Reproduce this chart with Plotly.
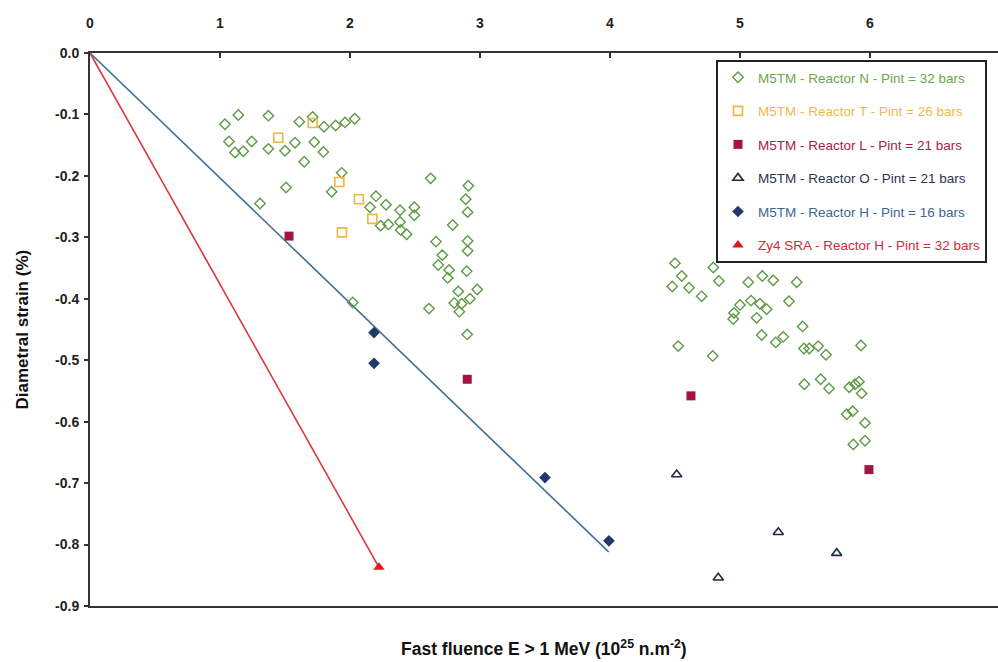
import plotly.graph_objects as go

# ---- data (fast fluence, 10^25 n/m^2 ; diametral strain, %) ----
n_x = [1.038, 1.141, 1.372, 1.610, 1.713, 1.800, 1.890, 1.962, 2.036, 1.069, 1.115, 1.179, 1.244,
       1.372, 1.500, 1.577, 1.725, 1.795, 1.648, 1.936, 1.859, 1.508, 1.308, 2.200, 2.154, 2.277,
       2.385, 2.495, 2.495, 2.236, 2.295, 2.385, 2.390, 2.436, 2.021, 2.621, 2.910, 2.890, 2.905,
       2.790, 2.662, 2.905, 2.905, 2.710, 2.679, 2.762, 2.752, 2.898, 2.979, 2.833, 2.802, 2.859,
       2.923, 2.841, 2.608, 2.902,
       4.500, 4.552, 4.479, 4.608, 4.705, 4.795, 4.838, 5.064, 5.172, 5.256, 5.436, 5.377, 5.085,
       5.154, 5.205, 5.000, 4.954, 4.948, 5.128, 5.167, 5.275, 5.333, 5.482, 5.492, 5.533, 4.525,
       4.790, 5.495, 5.602, 5.662, 5.931, 5.621, 5.685, 5.841, 5.885, 5.915, 5.936, 5.821, 5.867,
       5.962, 5.872, 5.962]
n_y = [-0.116, -0.101, -0.102, -0.112, -0.104, -0.120, -0.118, -0.113, -0.107, -0.144, -0.162, -0.160, -0.144,
       -0.156, -0.159, -0.146, -0.145, -0.161, -0.177, -0.195, -0.226, -0.219, -0.245, -0.233, -0.251, -0.247,
       -0.256, -0.251, -0.264, -0.281, -0.279, -0.275, -0.288, -0.295, -0.406, -0.204, -0.216, -0.238, -0.259,
       -0.280, -0.307, -0.306, -0.322, -0.329, -0.345, -0.353, -0.366, -0.355, -0.385, -0.388, -0.407, -0.408,
       -0.400, -0.421, -0.416, -0.458,
       -0.342, -0.363, -0.380, -0.382, -0.396, -0.349, -0.371, -0.373, -0.363, -0.370, -0.373, -0.404, -0.403,
       -0.408, -0.417, -0.410, -0.423, -0.433, -0.431, -0.459, -0.471, -0.462, -0.445, -0.481, -0.481, -0.477,
       -0.493, -0.539, -0.477, -0.491, -0.476, -0.531, -0.546, -0.544, -0.539, -0.535, -0.554, -0.588, -0.583,
       -0.602, -0.637, -0.631]

t_x = [1.713, 1.448, 1.918, 2.069, 2.172, 1.938]
t_y = [-0.114, -0.138, -0.210, -0.238, -0.270, -0.292]

l_x = [1.531, 2.902, 4.623, 5.992]
l_y = [-0.298, -0.531, -0.558, -0.678]

o_x = [4.513, 4.833, 5.295, 5.744]
o_y = [-0.686, -0.854, -0.780, -0.814]

h_x = [2.185, 2.185, 3.500, 3.992]
h_y = [-0.455, -0.505, -0.691, -0.794]

zy4_x = [2.223]
zy4_y = [-0.837]

m5_fit_x = [0.0, 3.99]
m5_fit_y = [0.0, -0.812]
zy4_fit_x = [0.0, 2.223]
zy4_fit_y = [0.0, -0.837]

x_ticks = [0, 1, 2, 3, 4, 5, 6, 7]
y_ticks = [0.0, -0.1, -0.2, -0.3, -0.4, -0.5, -0.6, -0.7, -0.8, -0.9]

names = ["M5TM - Reactor N - Pint = 32 bars",
         "M5TM - Reactor T - Pint = 26 bars",
         "M5TM - Reactor L - Pint = 21 bars",
         "M5TM - Reactor O - Pint = 21 bars",
         "M5TM - Reactor H - Pint = 16 bars",
         "Zy4 SRA - Reactor H - Pint = 32 bars"]

# ---- figure ----
W, H = 998, 662
L, T, R, B = 90, 53, 0, 56

fig = go.Figure()

# fit lines (not in legend)
fig.add_trace(go.Scatter(x=m5_fit_x, y=m5_fit_y, mode="lines",
                         line=dict(color="#3f6f95", width=1.6), showlegend=False, hoverinfo="skip"))
fig.add_trace(go.Scatter(x=zy4_fit_x, y=zy4_fit_y, mode="lines",
                         line=dict(color="#d8393f", width=1.6), showlegend=False, hoverinfo="skip"))

def lab(txt, col):
    return f"<span style='color:{col}'>{txt}</span>"

series = [
    (n_x, n_y, names[0], dict(symbol="diamond-open", size=8, color="#5e9a45", line=dict(width=1.4, color="#5e9a45")), "#6aa84a"),
    (t_x, t_y, names[1], dict(symbol="square-open", size=9, color="#f0b53a", line=dict(width=1.6, color="#f0b53a")), "#efb94a"),
    (l_x, l_y, names[2], dict(symbol="square", size=9, color="#a3143e"), "#a8204c"),
    (o_x, o_y, names[3], dict(symbol="triangle-up-open", size=9, color="#202b45", line=dict(width=1.6, color="#202b45")), "#2a3550"),
    (h_x, h_y, names[4], dict(symbol="diamond", size=9, color="#1f3a6a"), "#3a6794"),
    (zy4_x, zy4_y, names[5], dict(symbol="triangle-up", size=10, color="#e5161e"), "#d8283a"),
]
for i, (xs, ys, nm, mk, tc) in enumerate(series):
    fig.add_trace(go.Scatter(x=xs, y=ys, mode="markers", name=lab(nm, tc), marker=mk,
                             legendgroup=f"g{i}"))

plot_w = W - L - R
plot_h = H - T - B

fig.update_layout(
    width=W, height=H,
    margin=dict(l=L, r=R, t=T, b=B, pad=0),
    plot_bgcolor="white", paper_bgcolor="white",
    font=dict(family="Liberation Sans, Arial, sans-serif", color="#222"),
    showlegend=True,
    legend=dict(
        x=(716 - L) / plot_w, y=(H - B - 60) / plot_h, xanchor="left", yanchor="top",
        bgcolor="white", bordercolor="#222", borderwidth=2,
        font=dict(size=13.5, family="Liberation Sans, Arial, sans-serif"),
        tracegroupgap=13, itemwidth=30,
    ),
    xaxis=dict(
        side="top", range=[0, 6.985], tickmode="array", tickvals=x_ticks,
        ticktext=[str(v) for v in x_ticks],
        showgrid=False, zeroline=False, showline=True, linecolor="#333", linewidth=2,
        mirror=True, ticks="inside", ticklen=5, tickwidth=2, tickcolor="#333",
        tickfont=dict(size=14, weight="bold", color="#222"), ticklabelstandoff=17,
    ),
    yaxis=dict(
        range=[-0.9, 0], tickmode="array", tickvals=y_ticks,
        ticktext=[f"{v:.1f}" for v in y_ticks],
        showgrid=False, zeroline=False, showline=True, linecolor="#333", linewidth=2,
        ticks="outside", ticklen=4, tickwidth=2, tickcolor="#333",
        tickfont=dict(size=14, weight="bold", color="#222"), ticklabelstandoff=2,
    ),
    annotations=[
        dict(text="Fast fluence E > 1 MeV (10<sup>25</sup> n.m<sup>-2</sup>)",
             xref="paper", yref="paper", x=0.5, y=-(648 - (H - B)) / plot_h,
             xanchor="center", yanchor="middle", showarrow=False,
             font=dict(size=17.5, weight="bold", color="#111")),
        dict(text="Diametral strain (%)", textangle=-90,
             xref="paper", yref="paper", x=-(L - 22) / plot_w, y=0.5,
             xanchor="center", yanchor="middle", showarrow=False,
             font=dict(size=17, weight="bold", color="#111")),
    ],
)

fig.write_html("out.html", config={"displayModeBar": False},
               post_script="document.body.style.margin='0';document.body.style.overflow='hidden';")
